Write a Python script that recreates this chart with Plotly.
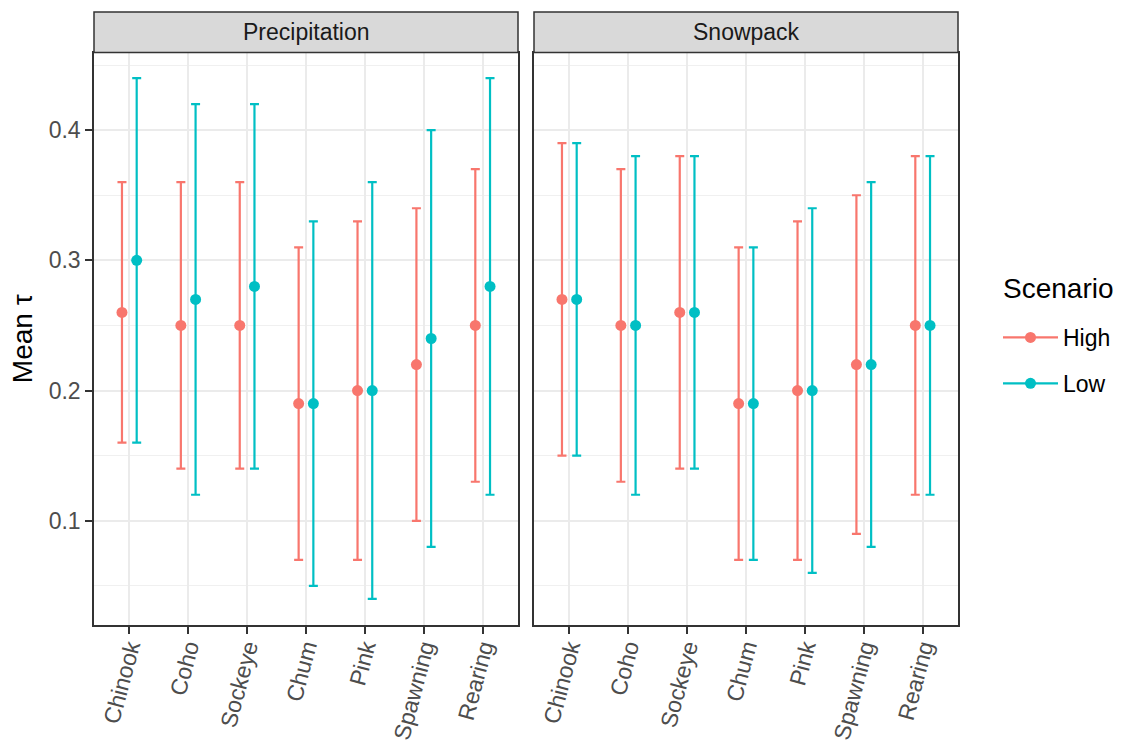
import plotly.graph_objects as go

categories = ["Chinook", "Coho", "Sockeye", "Chum", "Pink", "Spawning", "Rearing"]
facets = ["Precipitation", "Snowpack"]
scenarios = ["High", "Low"]
colors = {"High": "#F8766D", "Low": "#00BFC4"}

# Precipitation
precip_high_mean = [0.26, 0.25, 0.25, 0.19, 0.20, 0.22, 0.25]
precip_high_lo = [0.16, 0.14, 0.14, 0.07, 0.07, 0.10, 0.13]
precip_high_hi = [0.36, 0.36, 0.36, 0.31, 0.33, 0.34, 0.37]
precip_low_mean = [0.30, 0.27, 0.28, 0.19, 0.20, 0.24, 0.28]
precip_low_lo = [0.16, 0.12, 0.14, 0.05, 0.04, 0.08, 0.12]
precip_low_hi = [0.44, 0.42, 0.42, 0.33, 0.36, 0.40, 0.44]
# Snowpack
snow_high_mean = [0.27, 0.25, 0.26, 0.19, 0.20, 0.22, 0.25]
snow_high_lo = [0.15, 0.13, 0.14, 0.07, 0.07, 0.09, 0.12]
snow_high_hi = [0.39, 0.37, 0.38, 0.31, 0.33, 0.35, 0.38]
snow_low_mean = [0.27, 0.25, 0.26, 0.19, 0.20, 0.22, 0.25]
snow_low_lo = [0.15, 0.12, 0.14, 0.07, 0.06, 0.08, 0.12]
snow_low_hi = [0.39, 0.38, 0.38, 0.31, 0.34, 0.36, 0.38]

y_ticks = [0.1, 0.2, 0.3, 0.4]

data = {
    ("Precipitation", "High"): (precip_high_mean, precip_high_lo, precip_high_hi),
    ("Precipitation", "Low"): (precip_low_mean, precip_low_lo, precip_low_hi),
    ("Snowpack", "High"): (snow_high_mean, snow_high_lo, snow_high_hi),
    ("Snowpack", "Low"): (snow_low_mean, snow_low_lo, snow_low_hi),
}

W, H = 1123, 742
def px(x):
    return x / W
def py(y):
    return 1 - y / H

panel_x = {"Precipitation": (94, 518), "Snowpack": (534, 958)}
panel_top, panel_bot, strip_top = 52.5, 625, 12

fig = go.Figure()
dodge = {"High": -0.125, "Low": 0.125}
font = "Liberation Sans, Arial, sans-serif"

for i, f in enumerate(facets):
    xa = "x" if i == 0 else "x2"
    ya = "y" if i == 0 else "y2"
    for s in scenarios:
        mean, lo, hi = data[(f, s)]
        xs = [k + 1 + dodge[s] for k in range(len(categories))]
        fig.add_trace(go.Scatter(
            x=xs, y=mean, mode="markers", xaxis=xa, yaxis=ya,
            marker=dict(color=colors[s], size=11),
            error_y=dict(type="data", symmetric=False,
                         array=[h - m for h, m in zip(hi, mean)],
                         arrayminus=[m - l for m, l in zip(mean, lo)],
                         color=colors[s], thickness=2.2, width=4.5),
            showlegend=False, hoverinfo="skip"))

for s in scenarios:
    fig.add_trace(go.Scatter(x=[None], y=[None], mode="lines+markers", name=s,
                             legendgroup=s,
                             line=dict(color=colors[s], width=2.2),
                             marker=dict(color=colors[s], size=11)))

axis_common = dict(showline=True, mirror=True, linecolor="#333333", linewidth=1.5,
                   zeroline=False, automargin=False)
for i, f in enumerate(facets):
    x0, x1 = panel_x[f]
    xkey = "xaxis" if i == 0 else "xaxis2"
    ykey = "yaxis" if i == 0 else "yaxis2"
    fig.update_layout(**{
        xkey: dict(axis_common, domain=[px(x0), px(x1)], range=[0.4, 7.6],
                   anchor="y" if i == 0 else "y2",
                   tickmode="array", tickvals=list(range(1, 8)), ticktext=categories,
                   tickangle=-75, ticks="outside", ticklen=7, tickwidth=1.5,
                   tickcolor="#333333", ticklabelstandoff=-9,
                   tickfont=dict(family=font, size=23, color="#4D4D4D"),
                   showgrid=True, gridcolor="#EBEBEB", gridwidth=1.6),
        ykey: dict(axis_common, domain=[py(panel_bot), py(panel_top)],
                   range=[0.02, 0.4596], anchor="x" if i == 0 else "x2",
                   tickmode="array", tickvals=y_ticks,
                   ticks="outside" if i == 0 else "", ticklen=7, tickwidth=1.5,
                   tickcolor="#333333",
                   showticklabels=(i == 0),
                   tickfont=dict(family=font, size=23, color="#4D4D4D"),
                   showgrid=True, gridcolor="#EBEBEB", gridwidth=1.6,
                   minor=dict(tick0=0.05, dtick=0.1, showgrid=True,
                              gridcolor="#F0F0F0", gridwidth=0.9, ticks=""),
                   title=dict(text="Mean τ", font=dict(family=font, size=28, color="black"),
                              standoff=8) if i == 0 else None),
    })
    # strip
    fig.add_shape(type="rect", xref="paper", yref="paper",
                  x0=px(x0), x1=px(x1), y0=py(panel_top), y1=py(strip_top),
                  fillcolor="#D9D9D9", line=dict(color="#333333", width=1.5), layer="above")
    fig.add_annotation(xref="paper", yref="paper", x=(px(x0) + px(x1)) / 2,
                       y=(py(panel_top) + py(strip_top)) / 2, text=f, showarrow=False,
                       font=dict(family=font, size=23, color="#1A1A1A"),
                       xanchor="center", yanchor="middle")

# legend title
fig.add_annotation(xref="paper", yref="paper", x=px(1001), y=py(288), text="Scenario",
                   showarrow=False, xanchor="left", yanchor="middle",
                   font=dict(family=font, size=28, color="black"))

fig.update_layout(
    width=W, height=H, margin=dict(l=0, r=0, t=0, b=0),
    paper_bgcolor="white", plot_bgcolor="white",
    legend=dict(x=px(998), y=py(316), xanchor="left", yanchor="top",
                font=dict(family=font, size=23, color="black"),
                tracegroupgap=13, itemwidth=55, bgcolor="rgba(0,0,0,0)"),
)

fig.write_html("out.html")
